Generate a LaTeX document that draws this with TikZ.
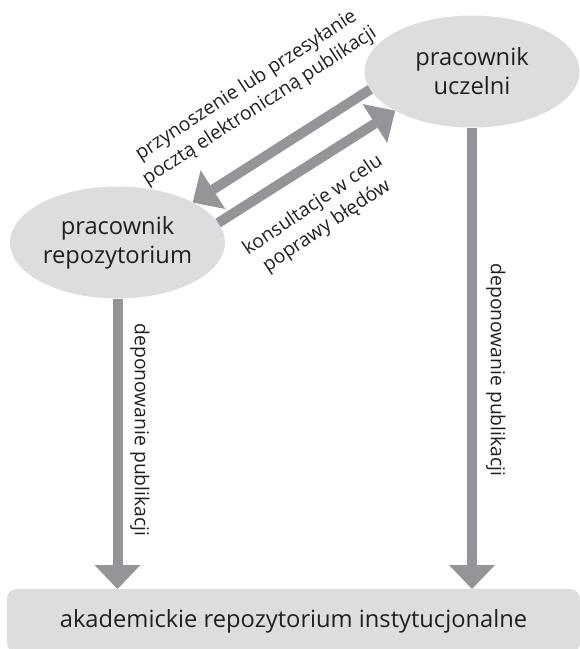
\documentclass[tikz,border=0pt]{standalone}
\usepackage{fontspec}
\setmainfont{Open Sans}
\usetikzlibrary{arrows.meta,shapes.geometric}
\definecolor{fillgray}{HTML}{DCDDDE}
\definecolor{arrowgray}{HTML}{939598}
\definecolor{txt}{HTML}{231F20}
\tikzset{
  actor/.style={ellipse, fill=fillgray, draw=none, inner sep=0pt, outer sep=0pt,
    minimum width=215pt, minimum height=112pt, align=center, text=txt,
    font=\fontsize{23.7}{29}\selectfont},
  repobox/.style={rectangle, rounded corners=10pt, fill=fillgray, draw=none,
    inner sep=0pt, outer sep=0pt, minimum width=573pt, minimum height=64pt,
    text=txt, font=\fontsize{23.7}{29}\selectfont},
  flow/.style={draw=arrowgray, line width=10pt,
    -{Triangle[length=24pt,width=46pt,line width=0pt]}},
  lbl/.style={text=txt, align=center, inner sep=0pt,
    font=\fontsize{19.3}{24.5}\selectfont}
}
\begin{document}
\begin{tikzpicture}[x=1pt,y=-1pt]
\useasboundingbox (0,0) rectangle (580,649);
\clip (0,0) rectangle (580,649);
\node[actor] (uc) at (472,71.5) {pracownik\\uczelni};
\node[actor] (rep) at (117.5,242.5) {pracownik\\repozytorium};
\node[repobox] (box) at (293.5,621) {akademickie repozytorium instytucjonalne};
\draw[flow] (uc.190) -- (rep.28.5);
\draw[flow] (rep.11) -- (uc.207);
\draw[flow] (rep.south) -- (rep.south |- box.north);
\draw[flow] (uc.south) -- (uc.south |- box.north);
\node[lbl, rotate=33] (l1) at (253,96) {przynoszenie lub przesyłanie\\pocztą elektroniczną publikacji};
\node[lbl, rotate=34] (l2) at (320,216) {konsultacje w celu\\poprawy błędów};
\node[lbl, rotate=-90] (l3) at (140,430) {deponowanie publikacji};
\node[lbl, rotate=-90] (l4) at (496,370) {deponowanie publikacji};
\end{tikzpicture}
\end{document}
